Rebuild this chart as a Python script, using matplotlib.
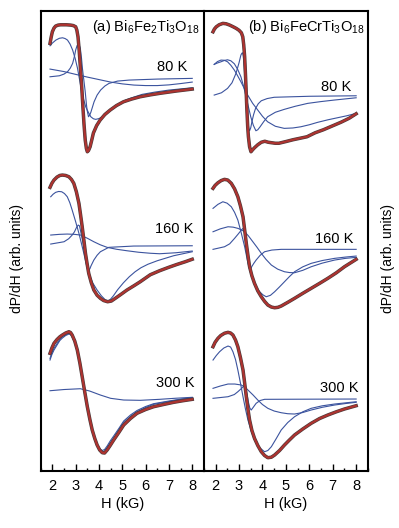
import matplotlib
matplotlib.use("Agg")
import matplotlib.pyplot as plt
import matplotlib.patheffects as pe
from matplotlib.ticker import MultipleLocator

plt.rcParams["font.family"] = ["Liberation Sans", "DejaVu Sans"]
plt.rcParams["mathtext.default"] = "regular"

# ---- (a) Bi6Fe2Ti3O18 ----
# 80 K
h_a80_fit = [1.90, 1.95, 2.00, 2.07, 2.14, 2.25, 2.36, 2.60, 2.78, 2.90, 3.00, 3.05, 3.10, 3.15, 3.20, 3.26, 3.31, 3.36,
             3.41, 3.46, 3.50, 3.55, 3.62, 3.70, 3.76, 3.90, 4.05, 4.25, 4.48, 4.75, 5.05, 5.40, 5.76, 6.20, 6.60, 7.30, 8.00]
a80_fit = [36.7, 43, 48.3, 52, 54, 55, 55.3, 55.3, 55, 54.5, 53.3, 50, 43.3, 30, 13.3, -7, -26.7, -45,
           -60, -68.5, -71.7, -70.5, -66.7, -59, -53, -45.5, -40, -34.5, -30, -25.5, -21.7, -19, -16.7, -14.8, -13.3, -11, -9]
h_a80_c1 = [1.90, 2.00, 2.15, 2.30, 2.44, 2.55, 2.65, 2.76, 2.87, 2.98, 3.08, 3.17, 3.26, 3.35, 3.43, 3.55, 3.65, 3.76,
            3.86, 4.00, 4.15, 4.35, 4.57, 4.85, 5.14, 5.50, 5.85, 6.40, 7.00, 8.00]
a80_c1 = [34.3, 37, 40, 41.8, 42.3, 41.5, 40, 36, 30, 21.5, 11.7, 0, -11.7, -20, -26.7, -32.5, -36.7, -38.7,
          -39.3, -38.5, -36.7, -32.5, -28.3, -24, -20, -17, -14.3, -12, -10, -7.7]
h_a80_c2 = [1.90, 2.30, 2.50, 2.65, 2.77, 2.87, 2.95, 3.00, 3.06, 3.11, 3.16, 3.20, 3.25, 3.29, 3.35, 3.41, 3.46, 3.49,
            3.55, 3.60, 3.65, 3.72, 3.79, 3.92, 4.07, 4.25, 4.43, 4.80, 5.29, 6.50, 8.00]
a80_c2 = [3.3, 4.3, 6, 8.3, 12, 16.7, 24, 30, 34.5, 35.7, 34.5, 31.7, 22, 11.7, 0, -11.7, -24, -30,
          -36.7, -35, -32.3, -27, -21.7, -15, -10, -6, -3.3, -1, 0, 1, 1.7]
h_a80_c3 = [1.90, 2.50, 3.00, 3.50, 4.00, 4.50, 5.00, 5.50, 6.00, 6.50, 7.00, 7.50, 8.00]
a80_c3 = [11, 8.5, 5.7, 3, 0.5, -2, -3.8, -5, -5.5, -5.5, -4.8, -3.5, -2]

# 160 K
h_a160_fit = [1.90, 1.98, 2.07, 2.20, 2.32, 2.43, 2.57, 2.71, 2.82, 2.92, 3.03, 3.14, 3.21, 3.28, 3.35, 3.42, 3.49, 3.56,
              3.67, 3.78, 3.92, 4.06, 4.20, 4.37, 4.53, 4.70, 4.95, 5.20, 5.50, 5.77, 6.20, 6.60, 7.00, 7.33, 7.70, 8.00]
a160_fit = [58.4, 62.5, 65.7, 68.7, 70.3, 70.7, 70.3, 69, 66.3, 62.4, 54, 42.4, 31, 19, 6, -7.6, -18, -27.6,
            -37, -44.3, -49.5, -52.6, -54.8, -56, -55.3, -52.6, -48.5, -44.3, -40, -36, -29, -25, -21.5, -18.8, -16, -13.5]
h_a160_c1 = [1.93, 2.03, 2.14, 2.27, 2.40, 2.52, 2.64, 2.75, 2.85, 3.00, 3.14, 3.25, 3.35, 3.45, 3.56, 3.74, 3.92, 4.10,
             4.28, 4.40, 4.49, 4.62, 4.80, 5.05, 5.30, 5.55, 5.80, 6.10, 6.50, 7.20, 8.00]
a160_c1 = [49, 51.5, 53.4, 54.3, 54, 52.2, 49, 43, 35.7, 24, 12.4, 2, -7.6, -18, -27.6, -37.5, -44.3, -50,
           -54.3, -55, -53.6, -50, -44, -37, -31, -26, -22, -18.5, -15, -10, -6]
h_a160_c2 = [1.93, 2.50, 2.70, 2.85, 2.95, 3.03, 3.11, 3.16, 3.20, 3.26, 3.32, 3.39, 3.46, 3.51, 3.56, 3.61, 3.66, 3.78,
             3.92, 4.06, 4.42, 5.49, 8.00]
a160_c2 = [1.7, 4, 7, 10.7, 14, 18, 20.7, 20, 16, 9, 2.4, -6, -14.3, -20, -24.3, -23, -20, -14.3,
           -9.5, -6, -1.6, -0.3, 0]
h_a160_c3 = [1.93, 2.30, 2.64, 2.95, 3.21, 3.50, 3.78, 4.05, 4.35, 4.75, 5.20, 5.70, 6.20, 6.60, 7.30, 8.00]
a160_c3 = [10.7, 11.4, 11.7, 11.4, 10.7, 7.5, 4, 1, -1.6, -3.5, -5, -6.5, -7.5, -8, -7, -5.3]

# 300 K
h_a300 = [1.90, 1.98, 2.07, 2.20, 2.32, 2.43, 2.57, 2.71, 2.78, 2.85, 2.96, 3.07, 3.18, 3.28, 3.39, 3.50, 3.61, 3.71,
          3.82, 3.92, 4.03, 4.14, 4.24, 4.35, 4.48, 4.63, 4.85, 5.06, 5.35, 5.63, 6.00, 6.34, 6.80, 7.20, 7.60, 8.00]
a300_fit = [41.7, 47, 51.7, 55.5, 58.2, 60, 62, 63.3, 62.5, 60, 54, 45, 32, 18.3, 3, -11.7, -24.5, -35,
            -43.5, -50, -55, -57.7, -58, -55, -50.5, -45, -37.5, -30, -23.5, -18.3, -14.5, -11.7, -9.3, -7.3, -5.7, -4.3]
a300_c1 = [36.7, 42, 46.7, 51.5, 55.5, 58.3, 60.5, 61.7, 61, 58.5, 53, 44, 31.5, 18, 2.7, -12, -24.5, -35,
           -43.5, -50, -54.5, -56.7, -56.2, -52.7, -48, -43.3, -35, -27.7, -21.5, -16.7, -12.5, -9.3, -7.3, -5.7, -4, -2.7]
a300_c2 = [35, 40.5, 45, 50, 54.5, 57, 59.5, 61, 60.5, 58, 52.5, 44, 31.5, 18, 2.7, -12, -24.5, -35,
           -43.5, -49.5, -53.7, -55.5, -54.5, -51, -46, -41, -33.5, -26, -20, -15.5, -11.5, -8.7, -6.8, -5.2, -3.8, -2.5]
h_a300_c3 = [1.90, 2.50, 3.20, 3.60, 4.06, 4.50, 5.06, 5.77, 6.60, 7.30, 8.00]
a300_c3 = [4.3, 5.5, 6.3, 4, 0, -3.3, -5, -5.3, -4.3, -3.2, -2.3]

# ---- (b) Bi6FeCrTi3O18 ----
# 80 K
h_b80_fit = [1.89, 1.95, 2.03, 2.15, 2.31, 2.45, 2.60, 2.75, 2.88, 3.00, 3.10, 3.16, 3.20, 3.24, 3.27, 3.30, 3.33, 3.37,
             3.40, 3.45, 3.51, 3.58, 3.66, 3.80, 3.95, 4.10, 4.25, 4.40, 4.55, 4.70, 5.00, 5.30, 5.60, 5.90, 6.25, 6.60,
             7.00, 7.35, 7.70, 8.00]
b80_fit = [65, 67.8, 70, 72, 73.4, 73, 71.7, 70, 68.4, 66.5, 64, 60, 52, 40, 25, 8, -10, -30,
           -40, -50, -55, -53, -51, -48, -45.5, -44.5, -45.5, -46, -46.5, -46.5, -44.8, -43, -41.5, -40, -36, -33,
           -29, -25.5, -21.5, -17]
h_b80_c1 = [1.94, 2.08, 2.23, 2.37, 2.51, 2.65, 2.80, 2.94, 3.08, 3.22, 3.37, 3.58, 3.80, 4.00, 4.22, 4.55, 4.93, 5.30,
            5.64, 6.00, 6.35, 6.80, 7.20, 7.60, 8.00]
b80_c1 = [32.4, 35.2, 36.7, 36.5, 35, 31.5, 26.7, 21, 15, 8.5, 1.7, -6.5, -13.3, -19.5, -25, -29.5, -31.6, -31.2,
          -30, -28, -25.6, -23, -21, -19, -16.6]
h_b80_c2 = [1.94, 2.08, 2.23, 2.37, 2.51, 2.65, 2.80, 2.94, 3.08, 3.20, 3.30, 3.40, 3.50, 3.61, 3.72, 3.80, 3.90, 4.05,
            4.22, 4.55, 4.93, 5.40, 5.93, 6.50, 7.06, 8.00]
b80_c2 = [32.4, 33.8, 35, 36.3, 37, 36, 33, 27.5, 20, 10, 0, -10, -20, -28.5, -34, -33, -30, -25,
          -20, -15.5, -12.6, -9.5, -6.6, -4.8, -3.3, -1]
h_b80_c3 = [1.94, 2.25, 2.51, 2.70, 2.87, 3.00, 3.08, 3.12, 3.15, 3.18, 3.22, 3.26, 3.30, 3.34, 3.38, 3.42, 3.45, 3.50,
            3.55, 3.62, 3.70, 3.82, 3.95, 4.20, 4.50, 6.00, 8.00]
b80_c3 = [1.7, 4, 8.4, 14, 23.4, 34, 41.7, 43.5, 44, 41, 30, 15, 0, -13, -25, -32, -34, -31,
          -25, -18, -12, -7, -4, -1.8, -0.5, 0.5, 1]

# 160 K
h_b160_fit = [1.89, 1.98, 2.10, 2.24, 2.38, 2.52, 2.67, 2.81, 2.95, 3.06, 3.17, 3.24, 3.31, 3.38, 3.45, 3.55, 3.66, 3.80,
              3.95, 4.09, 4.23, 4.38, 4.52, 4.66, 4.80, 5.08, 5.37, 5.72, 6.08, 6.44, 6.79, 7.15, 7.50, 7.75, 8.00]
b160_fit = [61, 64, 66.6, 68.8, 70, 69.3, 66, 60.5, 52.6, 43.5, 32.6, 19.5, 6, -6, -17.4, -26.5, -34, -41.5,
            -47.4, -52, -55.7, -57.7, -58.4, -58, -56.7, -53, -49, -44, -39, -34, -29, -23.5, -17.4, -13.7, -10]
h_b160_c1 = [1.89, 2.10, 2.31, 2.49, 2.67, 2.81, 2.95, 3.10, 3.24, 3.31, 3.38, 3.48, 3.59, 3.73, 3.88, 4.02, 4.16, 4.34,
             4.52, 4.73, 4.94, 5.15, 5.37, 5.72, 6.08, 6.55, 7.08, 7.55, 8.00]
b160_c1 = [41, 45, 47.6, 46.2, 42.6, 37, 29.3, 16, 2.6, -5.5, -14, -22.5, -30.7, -37, -42.4, -45.5, -47.4, -46,
           -42.4, -37.5, -32.4, -27.3, -22.4, -17.5, -14, -11.2, -9, -7.7, -6.7]
h_b160_c2 = [1.89, 2.20, 2.53, 2.75, 2.95, 3.10, 3.24, 3.40, 3.59, 3.77, 3.95, 4.15, 4.38, 4.65, 4.94, 5.15, 5.37, 5.72,
             6.08, 6.55, 7.08, 7.55, 8.00]
b160_c2 = [17.6, 20.5, 22.6, 22.2, 21, 19.5, 17.6, 13.5, 7.6, 2, -4, -10, -15.7, -19.8, -22.4, -23.2, -23.4, -21,
           -17.4, -13.8, -10.7, -9, -8]
h_b160_c3 = [1.89, 2.38, 2.60, 2.81, 2.97, 3.10, 3.16, 3.21, 3.25, 3.28, 3.31, 3.35, 3.40, 3.45, 3.50, 3.55, 3.63, 3.73,
             3.90, 4.09, 4.40, 4.80, 8.00]
b160_c3 = [0, 2.6, 5.5, 11, 15.5, 19.3, 20.8, 21, 18.5, 14, 8.5, 2.6, -9, -19, -19.5, -17, -14, -10.7,
           -6, -2.4, -0.7, 0, 0]

# 300 K
h_b300_fit = [1.89, 1.98, 2.10, 2.22, 2.38, 2.53, 2.64, 2.74, 2.85, 2.95, 3.06, 3.17, 3.24, 3.31, 3.38, 3.45, 3.55, 3.66,
              3.80, 3.95, 4.09, 4.23, 4.38, 4.52, 4.73, 4.94, 5.15, 5.37, 5.72, 6.08, 6.44, 6.79, 7.15, 7.50, 8.00]
b300_fit = [52.3, 56.8, 60.7, 63.5, 65.8, 66.7, 66, 64, 59, 52.3, 41.5, 29, 16, 2.3, -10, -21, -31.5, -39.3,
            -46.5, -52.7, -56.5, -58.7, -58.2, -56, -51.5, -46, -41, -36, -30, -24.3, -19.5, -16, -12.8, -10, -6.7]
h_b300_c1 = [1.89, 2.03, 2.17, 2.35, 2.53, 2.64, 2.74, 2.85, 2.95, 3.06, 3.17, 3.27, 3.38, 3.52, 3.66, 3.87, 4.09, 4.23,
             4.38, 4.59, 4.80, 5.08, 5.37, 5.72, 6.08, 6.55, 7.08, 8.00]
b300_c1 = [39, 43.5, 47.3, 51, 53, 52, 47.3, 39.5, 29, 16, 2.3, -9.5, -21, -32, -41, -48.5, -52.7, -51.5,
           -47.7, -39.5, -31, -23.5, -17.7, -12.8, -9.3, -6.8, -5, -2.7]
h_b300_c2 = [1.89, 2.20, 2.53, 2.82, 3.10, 3.25, 3.38, 3.60, 3.80, 4.00, 4.23, 4.50, 4.80, 5.08, 5.37, 5.72, 6.08, 6.55,
             7.08, 7.55, 8.00]
b300_c2 = [10.7, 13, 15, 15, 14, 12, 9, 4, -1, -5.5, -9.3, -12, -13.7, -14.7, -15, -13.5, -11, -8.3,
           -6, -4.5, -3.3]
h_b300_c3 = [1.89, 2.53, 2.80, 2.95, 3.10, 3.21, 3.26, 3.30, 3.35, 3.40, 3.46, 3.52, 3.60, 3.73, 3.90, 4.09, 8.00]
b300_c3 = [0.7, 2.3, 4.5, 7.3, 10.5, 13, 12.5, 10, 4, -3, -9, -11, -8.5, -4.3, -1.5, -0.3, 0]

fit_color = "#ad3330"
comp_color = "#3b539e"

fig = plt.figure(figsize=(3.99, 5.28), dpi=100)
ax_a = fig.add_axes([0.102, 0.1085, 0.409, 0.8705])
ax_b = fig.add_axes([0.511, 0.1085, 0.411, 0.8705])


def draw(ax, h_fit, fit, comps, offset):
    for h, s in comps:
        ax.plot(h, [v + offset for v in s], color=comp_color, lw=0.8, zorder=2)
    ax.plot(h_fit, [v + offset for v in fit], color=fit_color, lw=1.6, zorder=3,
            solid_joinstyle="round",
            path_effects=[pe.Stroke(linewidth=2.5, foreground="#4a3a3a"), pe.Normal()])


draw(ax_a, h_a80_fit, a80_fit, [(h_a80_c1, a80_c1), (h_a80_c2, a80_c2), (h_a80_c3, a80_c3)], 390.7)
draw(ax_a, h_a160_fit, a160_fit, [(h_a160_c1, a160_c1), (h_a160_c2, a160_c2), (h_a160_c3, a160_c3)], 225)
draw(ax_a, h_a300, a300_fit, [(h_a300, a300_c1), (h_a300, a300_c2), (h_a300_c3, a300_c3)], 75.7)

draw(ax_b, h_b80_fit, b80_fit, [(h_b80_c1, b80_c1), (h_b80_c2, b80_c2), (h_b80_c3, b80_c3)], 374)
draw(ax_b, h_b160_fit, b160_fit, [(h_b160_c1, b160_c1), (h_b160_c2, b160_c2), (h_b160_c3, b160_c3)], 221.4)
draw(ax_b, h_b300_fit, b300_fit, [(h_b300_c1, b300_c1), (h_b300_c2, b300_c2), (h_b300_c3, b300_c3)], 71.7)

for ax in (ax_a, ax_b):
    ax.set_xlim(1.5, 8.5)
    ax.set_ylim(0, 459.7)
    ax.set_yticks([])
    ax.xaxis.set_major_locator(MultipleLocator(1))
    ax.xaxis.set_minor_locator(MultipleLocator(0.5))
    ax.tick_params(axis="x", which="major", direction="in", length=5, width=1, labelsize=10.5, pad=6)
    ax.tick_params(axis="x", which="minor", direction="in", length=2.5, width=1)
    for sp in ax.spines.values():
        sp.set_linewidth(1.5)
    ax.set_xlabel("H (kG)", fontsize=10.5, labelpad=3)
ax_a.spines["right"].set_visible(False)

ax_a.text(8.33, 444, r"(a) Bi$_6$Fe$_2$Ti$_3$O$_{18}$", ha="right", va="center", fontsize=10.5)
ax_b.text(8.36, 444, r"(b) Bi$_6$FeCrTi$_3$O$_{18}$", ha="right", va="center", fontsize=10.5)

ax_a.text(7.12, 404, "80 K", ha="center", va="center", fontsize=10.5)
ax_a.text(7.22, 241.4, "160 K", ha="center", va="center", fontsize=10.5)
ax_a.text(7.26, 87.4, "300 K", ha="center", va="center", fontsize=10.5)
ax_b.text(7.15, 383.4, "80 K", ha="center", va="center", fontsize=10.5)
ax_b.text(7.08, 231.4, "160 K", ha="center", va="center", fontsize=10.5)
ax_b.text(7.29, 82.4, "300 K", ha="center", va="center", fontsize=10.5)

fig.text(0.043, 0.51, "dP/dH (arb. units)", rotation=90, ha="center", va="center", fontsize=10)
fig.text(0.972, 0.51, "dP/dH (arb. units)", rotation=90, ha="center", va="center", fontsize=10)

fig.savefig("out.png", dpi=100)
